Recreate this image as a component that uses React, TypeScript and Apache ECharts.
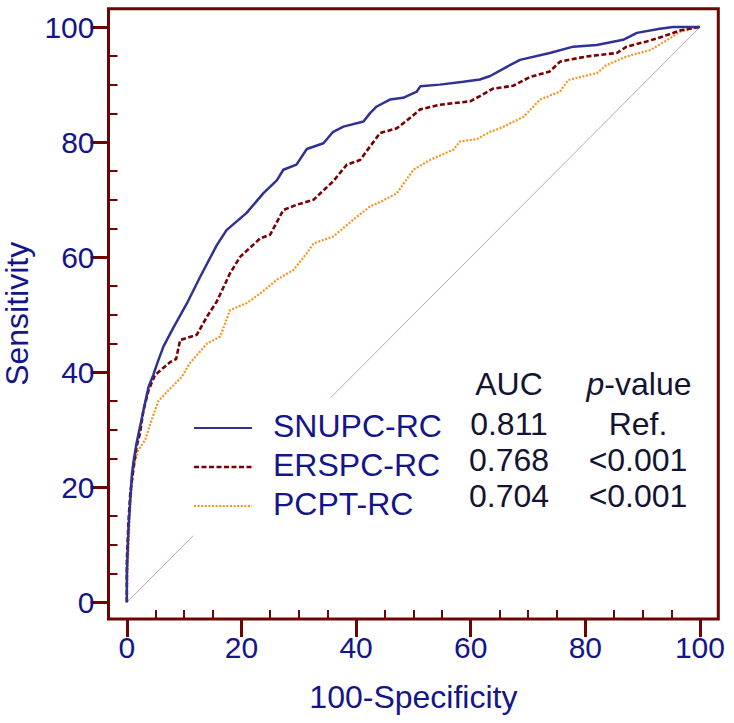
import React, { useEffect, useRef } from "react";
import * as echarts from "echarts";

// ---- data ----
const seriesNames = ["SNUPC-RC", "ERSPC-RC", "PCPT-RC"];
const aucValues = ["0.811", "0.768", "0.704"];
const pValues = ["Ref.", "<0.001", "<0.001"];
const majorTicks = [0, 20, 40, 60, 80, 100];
const minorTicks = [5, 10, 15, 25, 30, 35, 45, 50, 55, 65, 70, 75, 85, 90, 95];

const snupc: number[][] = [
  [0, 0], [0, 5], [0.3, 13.1], [0.6, 17.8], [0.9, 22.4], [1.2, 24.7], [1.7, 27.7],
  [2.3, 30.5], [2.9, 33.4], [3.8, 37.5], [4.6, 39.5], [5.5, 42.1], [6.4, 44.5],
  [8.1, 47.7], [10.5, 52], [12.8, 56.6], [15.7, 62.1], [17.4, 64.7], [20.9, 67.7],
  [23.8, 71.1], [26.2, 73.4], [27.3, 75.2], [29.6, 76.1], [31.4, 78.8], [34.3, 79.8],
  [36, 81.8], [37.8, 82.7], [41.3, 83.6], [42.4, 85], [43.6, 86.2], [45.9, 87.4],
  [48.2, 87.7], [50.6, 88.8], [51.2, 89.7], [54.6, 90], [58.7, 90.5], [61.6, 90.9],
  [63.4, 91.5], [66.3, 93.1], [68.6, 94.3], [73.8, 95.5], [77.9, 96.6], [82, 96.9],
  [86.6, 97.8], [89, 99], [93, 99.7], [95.3, 100], [100, 100],
];
const erspc: number[][] = [
  [0, 0], [0, 7.4], [0.3, 14.3], [0.6, 19], [1.2, 23.6], [1.7, 27.1], [2.3, 29.4],
  [2.9, 33.4], [3.8, 36.9], [4.9, 39.5], [7.6, 41.8], [8.6, 42.3], [9.3, 45.6],
  [12.2, 46.5], [14, 49.7], [15.7, 52.3], [18, 57.2], [19.8, 60.1], [23.3, 63.3],
  [25, 63.9], [27.3, 68.2], [29.6, 69.1], [32.6, 70], [36, 73.2], [38.4, 76.1],
  [40.7, 76.9], [42.4, 79.2], [44.2, 81.6], [47.1, 82.4], [49.4, 84.2], [51.2, 85.7],
  [54.6, 86.5], [59.9, 87.1], [61.6, 88], [63.9, 89.3], [67.4, 89.8], [70.3, 91.3],
  [73.8, 92.3], [75.6, 94], [80.2, 94.9], [85.5, 95.5], [87.2, 96.6], [90.7, 97.5],
  [93.6, 98.4], [96.5, 99.4], [99.7, 100], [100, 100],
];
const pcpt: number[][] = [
  [0, 0], [0, 1.5], [0.3, 9.7], [0.6, 17.2], [1.2, 23.6], [2, 26.5], [3.2, 28.2],
  [4.1, 31.1], [5.5, 35], [7.3, 36.9], [9.6, 39.2], [11, 41.6], [14, 45], [16.3, 46.2],
  [18, 50.8], [20.9, 52], [23.3, 53.7], [26.2, 56.1], [29.1, 57.8], [31.4, 60.7],
  [32.6, 62.4], [36, 63.6], [39.5, 66.5], [42.4, 68.8], [44.2, 69.6], [47.1, 71.1],
  [50, 75.2], [52.9, 76.9], [57, 78.7], [58.1, 80.1], [61, 80.5], [63.4, 81.8],
  [65.1, 82.4], [69.2, 84.4], [72.1, 87.4], [75.6, 88.8], [77, 90.8], [82, 92],
  [83.7, 93.4], [87.2, 94.9], [91.3, 96], [94.2, 97.7], [96.5, 99.2], [99.7, 100],
  [100, 100],
];
const diagonalLow: number[][] = [[0, 0], [11.6, 11.6]];
const diagonalHigh: number[][] = [[35.6, 35.6], [100, 100]];

// ---- styles ----
const FONT = '"Liberation Sans", Arial, sans-serif';
const NAVY = "#15158a";
const DARK = "#141432";
const FRAME = "#6e0505";
const lineColors = ["#2f3193", "#7a0000", "#f7941d"];
const lineDashes: any[] = ["solid", [5, 2.5], [2, 1.6]];
const lineWidths = [2.5, 2.6, 2.2];

const X_MIN = -3.2, X_MAX = 103.2, Y_MIN = -2.9, Y_MAX = 103.2;

// axes 0 and 1 carry major / minor ticks; axis 2 is an invisible helper whose
// zero sits on the frame edge, so the tick axes can be anchored to the frame.
function axes(dim: "x" | "y") {
  const isX = dim === "x";
  const base = {
    type: "value",
    min: isX ? X_MIN : Y_MIN,
    max: isX ? X_MAX : Y_MAX,
    axisLine: { show: false, onZero: true, onZeroAxisIndex: 2 },
    splitLine: { show: false },
  };
  return [
    {
      ...base,
      axisTick: {
        show: true,
        inside: false,
        length: 18,
        customValues: majorTicks,
        lineStyle: { color: FRAME, width: 3 },
      },
      axisLabel: {
        show: true,
        customValues: majorTicks,
        fontSize: 30,
        fontFamily: FONT,
        color: NAVY,
        margin: isX ? 13 : 14,
      },
      name: isX ? "100-Specificity" : "Sensitivity",
      nameLocation: "middle",
      nameGap: isX ? 62 : 76,
      nameTextStyle: { fontSize: 32, fontFamily: FONT, color: NAVY },
    },
    {
      ...base,
      axisTick: {
        show: true,
        inside: false,
        length: 9,
        customValues: minorTicks,
        lineStyle: { color: FRAME, width: 2 },
      },
      axisLabel: { show: false },
    },
    {
      type: "value",
      min: 0,
      max: 1,
      show: false,
      axisLine: { show: false, onZero: false },
      splitLine: { show: false },
    },
  ];
}

export default function App() {
  const ref = useRef<HTMLDivElement>(null);
  useEffect(() => {
    if (!ref.current) return;
    const chart = echarts.init(ref.current, null, { renderer: "svg" });
    const curves = [snupc, erspc, pcpt];

    const legendRowsY = [426, 465, 504];
    const valueRowsY = [424, 460, 496];
    const graphics: any[] = [];
    const txt = (text: string, x: number, y: number, align: string, fill: string, extra: any = {}) => ({
      type: "text",
      x,
      y,
      style: {
        text, fill, font: `32px ${FONT}`,
        align, verticalAlign: "middle",
        textAlign: align, textVerticalAlign: "middle",
        ...extra,
      },
    });
    seriesNames.forEach((name, i) => {
      graphics.push({
        type: "line",
        shape: { x1: 194, y1: legendRowsY[i] + 2, x2: 252, y2: legendRowsY[i] + 2 },
        style: {
          stroke: lineColors[i],
          lineWidth: lineWidths[i] - 0.3,
          lineDash: Array.isArray(lineDashes[i]) ? lineDashes[i] : null,
        },
      });
      graphics.push(txt(name, 273, legendRowsY[i], "left", NAVY));
      graphics.push(txt(aucValues[i], 509, valueRowsY[i], "center", DARK));
      graphics.push(txt(pValues[i], 638, valueRowsY[i], "center", DARK));
    });
    graphics.push(txt("AUC", 509, 384, "center", DARK));
    graphics.push(
      txt("{i|p}-value", 639, 384, "center", DARK, {
        rich: { i: { fontStyle: "italic", fontSize: 32, fontFamily: FONT, fill: DARK } },
      })
    );

    chart.setOption({
      animation: false,
      backgroundColor: "#ffffff",
      grid: {
        left: 108.5,
        right: 15.7,
        top: 8.7,
        bottom: 104,
        show: true,
        borderColor: FRAME,
        borderWidth: 3,
        outerBoundsMode: "none",
      },
      xAxis: axes("x"),
      yAxis: axes("y"),
      series: [
        {
          type: "line",
          data: diagonalLow,
          symbol: "none",
          silent: true,
          lineStyle: { color: "#c9a0a0", width: 1 },
          z: 1,
        },
        {
          type: "line",
          data: diagonalHigh,
          symbol: "none",
          silent: true,
          lineStyle: { color: "#c9a0a0", width: 1 },
          z: 1,
        },
        ...curves.map((d, i) => ({
          type: "line",
          name: seriesNames[i],
          data: d,
          symbol: "none",
          lineStyle: { color: lineColors[i], width: lineWidths[i], type: lineDashes[i] },
          z: 5 - i,
        })),
      ],
      graphic: graphics,
    });
    return () => chart.dispose();
  }, []);
  return (
    <div
      ref={ref}
      style={{ position: "fixed", left: 0, top: 0, width: 734, height: 723, background: "#fff" }}
    />
  );
}
